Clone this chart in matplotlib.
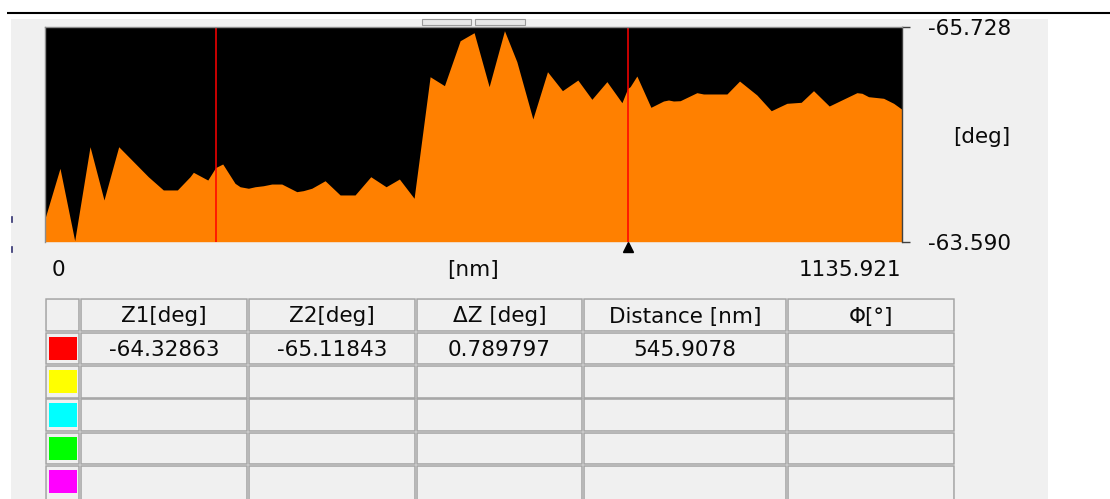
import matplotlib
matplotlib.use('Agg')
import matplotlib.pyplot as plt
from matplotlib.patches import Rectangle
from matplotlib.transforms import blended_transform_factory

# profile data (x in nm, phase in deg)
profile_x = [0, 20.5, 40.0, 60.3, 78.8, 98.3, 137.5, 157.4, 176.0, 192.8,
             197.2, 216.3, 226.6, 236.1, 252.4, 259.1, 270.1, 278.9, 289.9, 301.1,
             314.3, 334.2, 342.9, 354.1, 371.7, 391.6, 411.4, 432.2, 452.5, 470.1,
             489.6, 510.8, 529.8, 550.6, 569.1, 589.0, 609.3, 625.7, 646.9, 666.3,
             686.1, 706.5, 725.1, 745.0, 764.9, 772.5, 775.8, 784.7, 803.3, 820.0,
             826.6, 833.2, 842.1, 864.2, 873.0, 904.0, 920.7, 943.7, 962.7, 983.5,
             1002.4, 1018.7, 1039.5, 1076.2, 1082.9, 1091.6, 1111.5, 1124.8, 1135.9]
profile_z = [-63.806, -64.322, -63.600, -64.537, -64.006, -64.537, -64.238, -64.106, -64.106, -64.238,
             -64.282, -64.205, -64.329, -64.365, -64.172, -64.138, -64.123, -64.138, -64.148, -64.165,
             -64.165, -64.089, -64.099, -64.123, -64.198, -64.056, -64.056, -64.238, -64.138, -64.215,
             -64.023, -65.235, -65.146, -65.594, -65.674, -65.136, -65.694, -65.385, -64.814, -65.285,
             -65.096, -65.202, -65.010, -65.186, -64.976, -65.118, -65.136, -65.242, -64.930, -64.993,
             -65.003, -64.993, -64.996, -65.076, -65.063, -65.063, -65.192, -65.053, -64.896, -64.970,
             -64.980, -65.096, -64.943, -65.076, -65.070, -65.036, -65.020, -64.970, -64.910]

x_max = 1135.921
z_top = -65.728
z_bottom = -63.590
cursor_x = [226.6, 772.5]

# table content
header = ['', 'Z1[deg]', 'Z2[deg]', 'ΔZ [deg]', 'Distance [nm]', 'Φ[°]']
row1 = ['', '-64.32863', '-65.11843', '0.789797', '545.9078', '']
swatch_colors = ['#FF0000', '#FFFF00', '#00FFFF', '#00FF00', '#FF00FF']

FS = 15.5
TXT = '#0a0a0a'

fig = plt.figure(figsize=(11.10, 4.99), dpi=100)
fig.patch.set_facecolor('white')

# background axes in pixel coordinates
bg = fig.add_axes([0, 0, 1, 1])
bg.set_xlim(0, 1110)
bg.set_ylim(499, 0)
bg.axis('off')

bg.add_patch(Rectangle((11, 19), 1037, 481, fc='#F0F0F0', ec='none'))
bg.plot([7, 1110], [12.7, 12.7], color='black', lw=1.5, solid_capstyle='butt')
# little buttons above plot
for bx, bw in [(422, 49), (475, 50)]:
    bg.add_patch(Rectangle((bx, 18.5), bw, 6.5, fc='#E6E6E6', ec='#9A9A9A', lw=0.8))
# tiny marks at left edge
for my in [219, 249]:
    bg.plot([11.8, 11.8], [my - 2.5, my + 2.5], color='#303070', lw=1.2)

# x labels
bg.text(51.5, 270, '0', fontsize=FS, color=TXT, ha='left', va='center')
bg.text(473, 270, '[nm]', fontsize=FS, color=TXT, ha='center', va='center')
bg.text(901, 270, f'{x_max:.3f}', fontsize=FS, color=TXT, ha='right', va='center')

# table
col_edges = [45, 80, 248, 416, 583, 787, 955]
row_edges = [298.3, 331.7, 365, 398.3, 431.7, 465, 501]
bg.add_patch(Rectangle((col_edges[0], row_edges[0]), col_edges[-1] - col_edges[0],
                       row_edges[-1] - row_edges[0], fc='white', ec='none'))
for r in range(len(row_edges) - 1):
    y0, y1 = row_edges[r], row_edges[r + 1]
    for c in range(len(col_edges) - 1):
        x0, x1 = col_edges[c], col_edges[c + 1]
        bg.add_patch(Rectangle((x0 + 0.8, y0 + 0.8), x1 - x0 - 1.6, y1 - y0 - 1.6,
                               fc='#F0F0F0', ec='#A3A3A3', lw=1.1))
    if r > 0:
        bg.add_patch(Rectangle((49.3, y0 + 5), 27.4, 23.3, fc=swatch_colors[r - 1], ec='none'))

for c in range(len(col_edges) - 1):
    xc = (col_edges[c] + col_edges[c + 1]) / 2
    bg.text(xc, (row_edges[0] + row_edges[1]) / 2 + 1.5, header[c], fontsize=FS,
            color=TXT, ha='center', va='center')
    bg.text(xc, (row_edges[1] + row_edges[2]) / 2 + 1.5, row1[c], fontsize=FS,
            color=TXT, ha='center', va='center')

# profile axes
ax = fig.add_axes([44.5 / 1110, (499 - 241.7) / 499, 857.5 / 1110, 214.4 / 499])
ax.set_facecolor('black')
ax.fill_between(profile_x, profile_z, z_bottom, color='#FF8000', lw=0)
ax.set_xlim(0, x_max)
ax.set_ylim(z_bottom, z_top)

for cx in cursor_x:
    ax.axvline(cx, color='#FF0000', lw=1.1)

tr = blended_transform_factory(ax.transData, ax.transAxes)
ax.plot([cursor_x[1]], [-0.027], marker='^', color='black', markersize=7,
        transform=tr, clip_on=False)

for s in ['top', 'left']:
    ax.spines[s].set_color('#8C8C8C')
    ax.spines[s].set_linewidth(1.0)
ax.spines['bottom'].set_visible(False)
ax.spines['right'].set_color('#404040')
ax.spines['right'].set_linewidth(1.0)

ax.set_xticks([])
ax.yaxis.tick_right()
ax.set_yticks([z_top, z_bottom])
ax.set_yticklabels([f'{z_top:.3f}', f'{z_bottom:.3f}'])
ax.tick_params(axis='y', length=5.8, width=1.0, color='#404040', pad=13,
               labelsize=FS, labelcolor=TXT)
ax.yaxis.set_label_position('right')
ax.set_ylabel('[deg]', fontsize=FS, color=TXT, rotation=0, ha='center', va='center')
ax.yaxis.set_label_coords(1.0933, 0.488)

fig.savefig('out.png', dpi=100)
